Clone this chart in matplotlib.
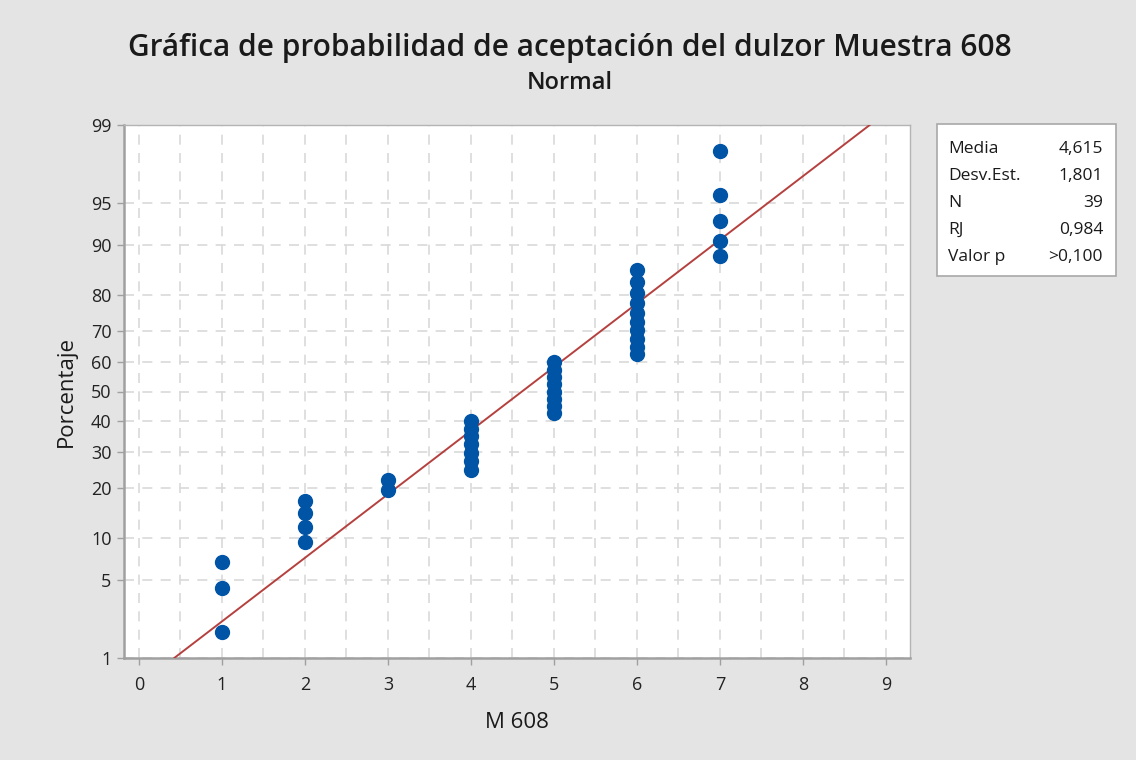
import numpy as np
import matplotlib.pyplot as plt
from matplotlib.ticker import FixedLocator, NullFormatter
from statistics import NormalDist

# Puntuaciones de dulzor (muestra 608) y número de jueces por puntuación
puntajes = [1, 2, 3, 4, 5, 6, 7]
frecuencias = [3, 4, 2, 7, 8, 10, 5]

# Estadísticos mostrados en la tabla
media = 4.615
desv_est = 1.801
rj = "0,984"
valor_p = ">0,100"

marcas_y = [1, 5, 10, 20, 30, 40, 50, 60, 70, 80, 90, 95, 99]

# Datos ordenados y rangos medianos (Benard) en porcentaje
datos = np.repeat(puntajes, frecuencias)
n = len(datos)
rangos = np.arange(1, n + 1)
porcentaje = (rangos - 0.3) / (n + 0.4) * 100

nd = NormalDist()
_inv = np.vectorize(lambda v: nd.inv_cdf(v / 100), otypes=[float])
_cdf = np.vectorize(lambda v: nd.cdf(v) * 100, otypes=[float])


def a_z(p):
    p = np.clip(np.asarray(p, dtype=float), 1e-6, 100 - 1e-6)
    return _inv(p)


def a_p(z):
    return _cdf(np.asarray(z, dtype=float))


fig = plt.figure(figsize=(11.36, 7.6), dpi=100, facecolor="#e4e4e4")
plt.rcParams['font.family'] = ['Open Sans', 'DejaVu Sans']
ax = fig.add_axes([124 / 1136, 1 - 658 / 760, (910 - 124) / 1136, (658 - 125) / 760])
ax.set_yscale('function', functions=(a_z, a_p))

# Recta de ajuste normal entre 1 % y 99 %
p_linea = np.array([1.0, 99.0])
x_linea = media + desv_est * a_z(p_linea)
ax.plot(x_linea, p_linea, color="#b5413f", lw=1.4, zorder=3)

ax.plot(datos, porcentaje, 'o', color="#0054a6", ms=10, mec="#0054a6", zorder=4)

ax.set_xlim(-0.18, 9.29)
ax.set_ylim(1, 99)

ax.set_xticks(range(0, 10))
ax.xaxis.set_minor_locator(FixedLocator(np.arange(0.5, 9.5, 1)))
ax.yaxis.set_major_locator(FixedLocator(marcas_y))
ax.yaxis.set_minor_locator(FixedLocator([]))
ax.yaxis.set_minor_formatter(NullFormatter())
ax.set_yticklabels([str(m) for m in marcas_y])

ax.grid(True, which='both', axis='x', color="#d9d9d9", ls=(0, (6, 5)), lw=1.2)
ax.grid(True, which='major', axis='y', color="#d9d9d9", ls=(0, (6, 5)), lw=1.2)
ax.set_axisbelow(True)

for lado in ['left', 'bottom']:
    ax.spines[lado].set_color("#a0a0a0")
    ax.spines[lado].set_linewidth(1.8)
for lado in ['top', 'right']:
    ax.spines[lado].set_color("#b4b4b4")
    ax.spines[lado].set_linewidth(1.0)

ax.tick_params(axis='both', which='major', length=5, width=1, color="#a0a0a0",
               labelsize=13, labelcolor="#222222", pad=4)
ax.tick_params(axis='x', which='minor', length=0)
ax.tick_params(axis='x', which='major', pad=8)

ax.set_xlabel("M 608", fontsize=16, color="#1a1a1a", labelpad=13)
ax.set_ylabel("Porcentaje", fontsize=16, color="#1a1a1a", labelpad=10)

fig.text(0.502, 1 - 48 / 760, "Gráfica de probabilidad de aceptación del dulzor Muestra 608",
         ha='center', va='center', fontsize=21.5, fontweight='semibold', color="#1a1a1a")
fig.text(0.502, 1 - 83 / 760, "Normal", ha='center', va='center', fontsize=17,
         fontweight='semibold', color="#1a1a1a")

# Tabla de estadísticos
cuadro = plt.Rectangle((937 / 1136, 1 - 276 / 760), (1116 - 937) / 1136, (276 - 124) / 760,
                       transform=fig.transFigure, facecolor="white", edgecolor="#a8a8a8", lw=1.2)
fig.patches.append(cuadro)
filas = [("Media", "4,615"), ("Desv.Est.", "1,801"), ("N", str(n)), ("RJ", rj), ("Valor p", valor_p)]
for i, (nombre, valor) in enumerate(filas):
    y = 1 - (149 + i * 27) / 760
    fig.text(948 / 1136, y, nombre, ha='left', va='center', fontsize=12.5, color="#1a1a1a")
    fig.text(1103 / 1136, y, valor, ha='right', va='center', fontsize=12.5, color="#1a1a1a")

fig.savefig("out.png", dpi=100, facecolor=fig.get_facecolor())
